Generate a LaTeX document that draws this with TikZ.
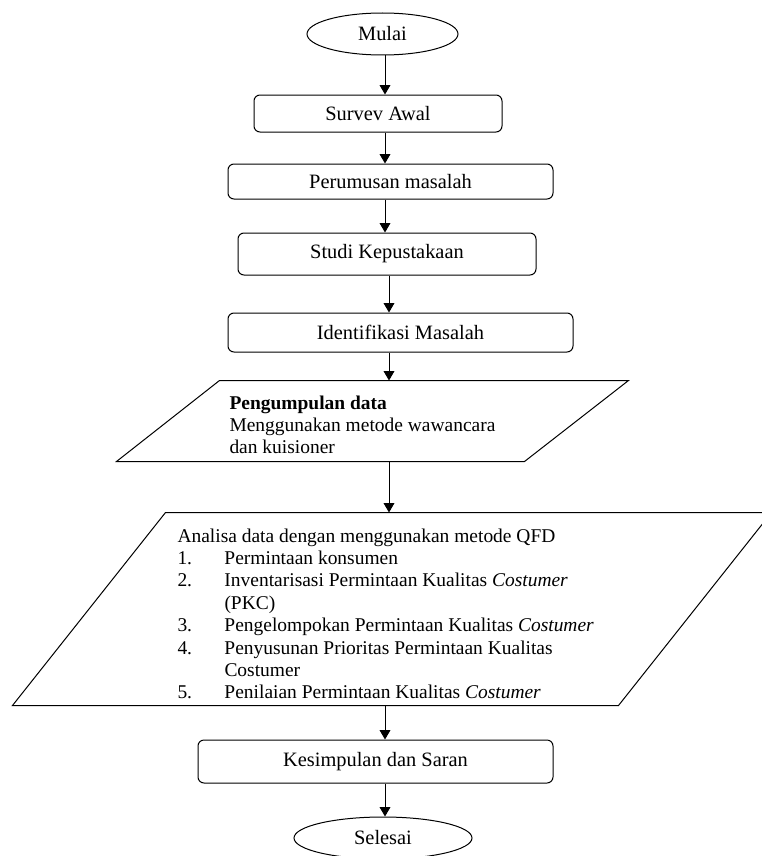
\documentclass[tikz,border=0pt]{standalone}
\usepackage{fontspec}
\setmainfont{Liberation Serif}
\usetikzlibrary{arrows.meta,shapes.geometric}

\tikzset{every picture/.style={line width=0.75pt}}
\tikzset{
  stepbox/.style={draw, rounded corners=4.5pt, inner sep=0pt, font=\fontsize{15.3}{18}\selectfont},
  terminal/.style={draw, ellipse, inner sep=0pt, font=\fontsize{15.3}{18}\selectfont},
  iobody/.style={inner sep=0pt},
  bodytext/.style={anchor=north west, inner sep=0pt, align=left, font=\fontsize{14.6}{16.8}\selectfont},
  arrowline/.style={-{Triangle[length=7pt,width=8pt]}}
}
\newcommand{\numcol}[1]{\makebox[35.25pt][l]{#1}}

\begin{document}
\begin{tikzpicture}[x=0.75pt,y=0.75pt,yscale=-1,xscale=1]
\useasboundingbox (0,0) rectangle (761,856);

%Ellipse [start]
\node[terminal, minimum width=113.25pt, minimum height=31.5pt] (mulai) at (382.5,34) {Mulai};
%Rounded Rect
\node[stepbox, minimum width=186pt, minimum height=27.75pt] (survei) at (378,113.5) {Survev Awal};
%Rounded Rect
\node[stepbox, minimum width=243.75pt, minimum height=26.25pt] (rumusan) at (390.5,181.5) {Perumusan masalah};
%Rounded Rect
\node[stepbox, minimum width=223.5pt, minimum height=31.5pt] (studi) at (387,254) {Studi Kepustakaan};
%Rounded Rect
\node[stepbox, minimum width=258.75pt, minimum height=29.25pt] (identifikasi) at (400.5,332.5) {Identifikasi Masalah};
%Shape: Parallelogram
\node[iobody, minimum width=383.25pt, minimum height=60pt] (kumpul) at (372.5,421) {};
\draw (kumpul.south west) -- ([xshift=-78pt]kumpul.south east) -- (kumpul.north east) -- ([xshift=77.25pt]kumpul.north west) -- cycle ;
%Shape: Parallelogram
\node[iobody, minimum width=568.5pt, minimum height=144pt] (analisa) at (392,609) {};
\draw (analisa.south west) -- ([xshift=-114.75pt]analisa.south east) -- (analisa.north east) -- ([xshift=114.75pt]analisa.north west) -- cycle ;
%Rounded Rect
\node[stepbox, minimum width=266.25pt, minimum height=32.25pt] (simpulan) at (375.5,761.5) {Kesimpulan dan Saran};
%Ellipse [end]
\node[terminal, minimum width=133.5pt, minimum height=31.5pt] (selesai) at (383,838) {Selesai};

% Text Node
\node[bodytext] (kumpultxt) at (229,395) {\textbf{Pengumpulan data}\\Menggunakan metode wawancara\\dan kuisioner};
% Text Node
\node[bodytext] (analisatxt) at (177,528) {Analisa data dengan menggunakan metode QFD\\
\numcol{1.}Permintaan konsumen\\
\numcol{2.}Inventarisasi Permintaan Kualitas \textit{Costumer}\\
\hspace*{35.25pt}(PKC)\\
\numcol{3.}Pengelompokan Permintaan Kualitas \textit{Costumer}\\
\numcol{4.}Penyusunan Prioritas Permintaan Kualitas\\
\hspace*{35.25pt}Costumer\\
\numcol{5.}Penilaian Permintaan Kualitas \textit{Costumer}};

%Arrows
\coordinate (colA) at (385,0);
\coordinate (colB) at (389,0);
\draw[arrowline] (mulai.south -| colA) -- (survei.north -| colA);
\draw[arrowline] (survei.south -| colA) -- (rumusan.north -| colA);
\draw[arrowline] (rumusan.south -| colA) -- (studi.north -| colA);
\draw[arrowline] (studi.south -| colB) -- (identifikasi.north -| colB);
\draw[arrowline] (identifikasi.south -| colB) -- (kumpul.north -| colB);
\draw[arrowline] (kumpul.south -| colB) -- (analisa.north -| colB);
\draw[arrowline] (analisa.south -| colA) -- (simpulan.north -| colA);
\draw[arrowline] (simpulan.south -| colA) -- (selesai.north -| colA);

\end{tikzpicture}
\end{document}
